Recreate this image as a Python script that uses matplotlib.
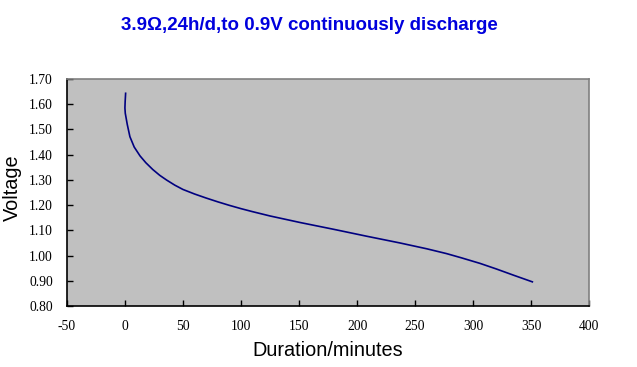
import matplotlib
matplotlib.use("Agg")
import matplotlib.pyplot as plt

# discharge curve
minutes = [0.6, 0.2, 0.0, 0.3, 2, 4.3, 8, 13, 18, 24, 30, 36, 43, 50, 60, 70, 80,
           90, 100, 110, 125, 142, 151, 180, 208, 237, 260, 277, 290, 306, 320, 335, 351]
voltage = [1.643, 1.610, 1.585, 1.564, 1.520, 1.471, 1.430, 1.395, 1.368, 1.341,
           1.318, 1.299, 1.279, 1.262, 1.244, 1.228, 1.213, 1.199, 1.186, 1.174,
           1.157, 1.140, 1.131, 1.104, 1.077, 1.050, 1.027, 1.008, 0.991, 0.969,
           0.947, 0.922, 0.896]

x_ticks = [-50, 0, 50, 100, 150, 200, 250, 300, 350, 400]
y_ticks = [0.80, 0.90, 1.00, 1.10, 1.20, 1.30, 1.40, 1.50, 1.60, 1.70]

fig = plt.figure(figsize=(6.37, 3.67), dpi=100)
ax = fig.add_axes([0.105, 0.166, 0.82, 0.619])
ax.set_facecolor("#c0c0c0")

ax.plot(minutes, voltage, color="#000080", linewidth=1.2)

ax.set_xlim(-50, 400)
ax.set_ylim(0.80, 1.70)
ax.set_xticks(x_ticks)
ax.set_yticks(y_ticks)
ax.set_xticklabels([str(t) for t in x_ticks], family="Liberation Serif", fontsize=9.8)
ax.set_yticklabels([f"{t:.2f}" for t in y_ticks], family="Liberation Serif", fontsize=9.8)
ax.tick_params(direction="in", length=4, width=1, color="black")
ax.tick_params(axis="x", pad=10)
ax.tick_params(axis="y", pad=10)

for side in ["top", "right"]:
    ax.spines[side].set_color("#808080")
    ax.spines[side].set_linewidth(1.2)
for side in ["left", "bottom"]:
    ax.spines[side].set_color("black")
    ax.spines[side].set_linewidth(1.2)

ax.set_xlabel("Duration/minutes", family="Liberation Sans", fontsize=14.3)
ax.xaxis.set_label_coords(0.5, -0.155)
ax.set_ylabel("Voltage", family="Liberation Sans", fontsize=14.3)
ax.yaxis.set_label_coords(-0.086, 0.52)

fig.text(0.486, 0.93, "3.9Ω,24h/d,to 0.9V continuously discharge", ha="center", va="center",
         family="Liberation Sans", fontweight="bold", fontsize=13.5, color="#0000dd")

fig.savefig("out.png", dpi=100)
